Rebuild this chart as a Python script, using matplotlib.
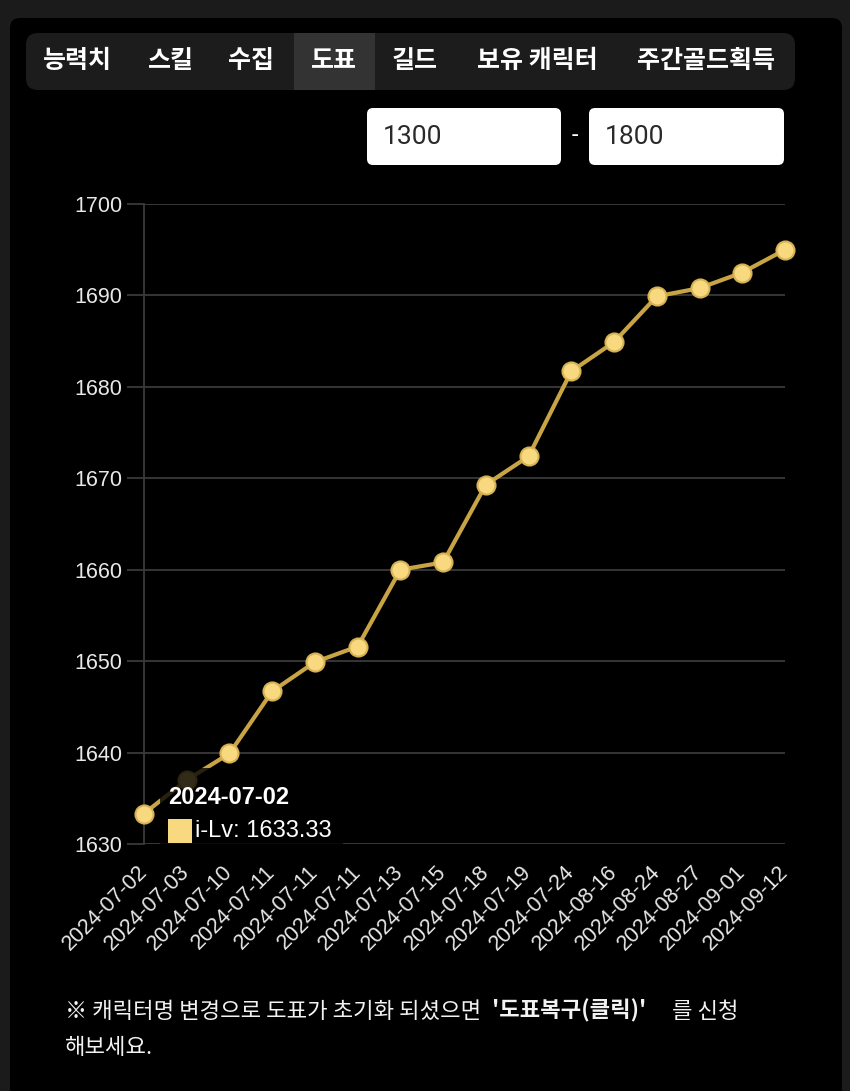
import matplotlib
matplotlib.use('Agg')
import matplotlib.pyplot as plt
from matplotlib.patches import FancyBboxPatch
from matplotlib.transforms import IdentityTransform

W, H = 850, 1091

# ---------------- data ----------------
tabs = ['능력치', '스킬', '수집', '도표', '길드', '보유 캐릭터', '주간골드획득']
selected_tab = '도표'
range_min = 1300
range_max = 1800
dates = ['2024-07-02', '2024-07-03', '2024-07-10', '2024-07-11', '2024-07-11',
         '2024-07-11', '2024-07-13', '2024-07-15', '2024-07-18', '2024-07-19',
         '2024-07-24', '2024-08-16', '2024-08-24', '2024-08-27', '2024-09-01',
         '2024-09-12']
ilv = [1633.33, 1637.0, 1639.9, 1646.7, 1649.9, 1651.6, 1660.0, 1660.8,
       1669.3, 1672.4, 1681.7, 1684.9, 1689.9, 1690.8, 1692.5, 1695.0]
series_name = 'i-Lv'
y_ticks = [1630, 1640, 1650, 1660, 1670, 1680, 1690, 1700]
tooltip_index = 0
note_normal = '※ 캐릭터명 변경으로 도표가 초기화 되셨으면'
note_bold = "'도표복구(클릭)'"
note_tail = '를 신청'
note_line2 = '해보세요.'

# ---------------- layout / style ----------------
tab_centers = [77, 171, 251, 334, 415, 537, 706]
KR = ['Noto Sans CJK KR', 'DejaVu Sans']
LAT = ['Liberation Sans', 'DejaVu Sans']
GRID = '#3a3a3a'
LINE = '#c8a444'
MARK = '#f8d980'

fig = plt.figure(figsize=(W / 100, H / 100), dpi=100, facecolor='#1b1b1b')


def box(x0, y0, x1, y1, color, r, z=-1, alpha=1.0, ec='none'):
    p = FancyBboxPatch((x0, H - y1), x1 - x0, y1 - y0,
                       boxstyle=f'round,pad=0,rounding_size={r}' if r > 0 else 'square,pad=0',
                       transform=IdentityTransform(), facecolor=color,
                       edgecolor=ec, zorder=z, alpha=alpha)
    fig.add_artist(p)
    return p


def ftext(x, y, s, **kw):
    return fig.text(x / W, 1 - y / H, s, **kw)


# black panel
box(10, 18, 842, 1120, '#000000', 10, z=-3)

# tab bar
box(26, 33, 795, 90, '#1c1c1c', 12, z=-2)
box(294, 33, 375, 90, '#333333', 0, z=-1)
for t, cx in zip(tabs, tab_centers):
    ftext(cx, 61, t, ha='center', va='center', fontsize=18, fontweight='bold',
          color='white', family=KR)

# range inputs
box(367, 108, 561, 165, '#ffffff', 6, z=-1)
box(589, 108, 784, 165, '#ffffff', 6, z=-1)
ftext(383, 137, str(range_min), ha='left', va='center', fontsize=19,
      color='#2a2a2a', family=['Roboto', 'DejaVu Sans'])
ftext(605, 137, str(range_max), ha='left', va='center', fontsize=19,
      color='#2a2a2a', family=['Roboto', 'DejaVu Sans'])
ftext(575, 136, '-', ha='center', va='center', fontsize=17, color='white',
      family=['Roboto', 'DejaVu Sans'])

# ---------------- chart ----------------
ax = fig.add_axes([144 / W, 1 - 844 / H, 641 / W, 640 / H])
ax.set_facecolor('none')
x = list(range(len(dates)))
ax.plot(x, ilv, color=LINE, lw=3, marker='o', ms=13, mfc=MARK, mec='#d6b252',
        mew=1.5, clip_on=False, zorder=3)
ax.set_xlim(0, len(dates) - 1)
ax.set_ylim(y_ticks[0], y_ticks[-1])
ax.set_yticks(y_ticks)
ax.set_yticklabels([str(v) for v in y_ticks], family=LAT)
ax.grid(axis='y', color=GRID, lw=1.3)
ax.set_axisbelow(True)
for s in ['top', 'right', 'bottom']:
    ax.spines[s].set_visible(False)
ax.spines['left'].set_color(GRID)
ax.spines['left'].set_linewidth(1.3)
ax.tick_params(axis='y', length=12, width=1.3, color=GRID, pad=3.5,
               labelsize=15.5, labelcolor='#e8e8e8')
ax.tick_params(axis='x', length=0, pad=18, labelsize=15.5, labelcolor='#e8e8e8')
ax.set_xticks(x)
ax.set_xticklabels(dates, rotation=45, ha='right', va='center',
                   rotation_mode='anchor', family=LAT)

# tooltip
box(160, 768, 343, 852, '#000000', 6, z=5, alpha=0.8)
ftext(168, 797, dates[tooltip_index], ha='left', va='center', fontsize=17,
      fontweight='bold', color='white', family=LAT, zorder=6)
box(168, 819, 192, 843, MARK, 0, z=6)
ftext(195, 831, f'{series_name}: {ilv[tooltip_index]:.2f}', ha='left',
      va='center', fontsize=17, color='white', family=LAT, zorder=6)

# note
ftext(65, 1011, note_normal, ha='left', va='center', fontsize=16,
      color='#f2f2f2', family=KR)
ftext(492, 1011, note_bold, ha='left', va='center', fontsize=16,
      fontweight='bold', color='#f2f2f2', family=KR)
ftext(672, 1011, note_tail, ha='left', va='center', fontsize=16,
      color='#f2f2f2', family=KR)
ftext(65, 1047, note_line2, ha='left', va='center', fontsize=16,
      color='#f2f2f2', family=KR)

fig.savefig('out.png', dpi=100, facecolor=fig.get_facecolor())
